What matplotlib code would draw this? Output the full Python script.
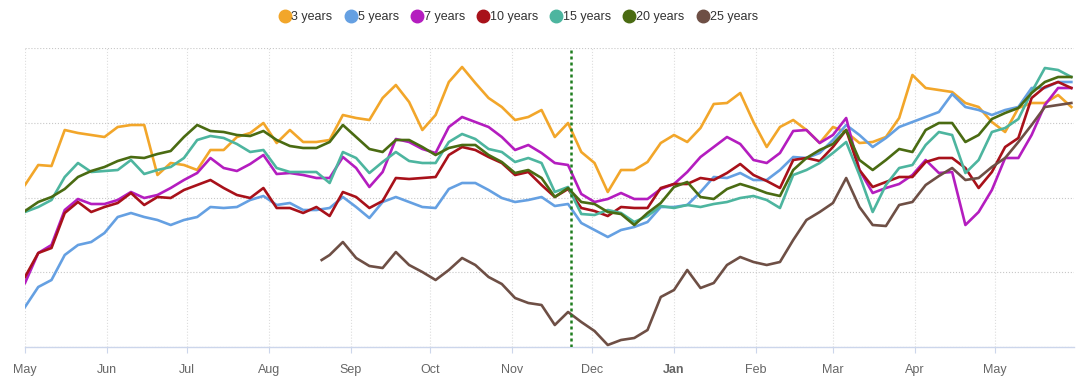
import matplotlib
matplotlib.use('Agg')
import matplotlib.pyplot as plt
import pandas as pd
import numpy as np
from matplotlib.lines import Line2D

# ---------------- data ----------------
dates = pd.date_range('2023-05-01', periods=80, freq='5D')

y3 = [162,182,181,217,214,212,210,220,222,222, 172,184,182,177,197,197,210,214,224,204,
      217,205,205,207,232,229,227,249,262,245, 217,232,265,280,264,249,240,227,230,237,
      210,224,195,184,155,177,177,185,204,212, 205,219,243,244,254,225,200,220,227,217,
      204,220,215,204,205,210,229,272,259,257, 255,244,240,225,215,239,244,244,252,240]
y5 = [40,60,67,92,102,105,114,130,134,130, 127,122,127,130,140,139,140,147,151,142,
      144,137,137,139,150,140,129,145,150,145, 140,139,158,164,164,157,149,145,147,150,
      141,143,124,117,110,117,120,125,140,140, 142,155,170,169,174,167,167,177,190,189,
      194,207,222,212,200,209,220,225,230,235, 253,240,237,232,237,240,259,259,265,265]
y7 = [64,94,102,137,148,143,143,147,155,149, 152,159,167,174,189,179,176,183,192,173,
      174,172,169,169,190,179,160,175,208,205, 198,194,220,230,225,220,210,197,202,194,
      184,182,153,145,148,154,148,148,158,163, 175,190,200,210,203,187,184,194,216,217,
      204,212,229,177,154,159,163,172,187,174, 175,122,135,157,189,189,212,242,259,259]
y10 = [70,94,99,134,145,135,140,144,154,142, 150,149,157,162,167,159,152,149,159,139,
       139,134,140,131,155,150,139,146,169,168, 169,170,192,200,197,190,184,172,175,162,
       150,158,139,136,131,140,139,139,159,163, 163,169,167,174,183,172,166,159,187,189,
       186,200,217,177,160,165,170,170,185,189, 189,179,159,175,200,209,249,260,265,259]
y15 = [135,140,147,170,184,175,176,177,187,173, 177,180,189,207,211,209,203,195,197,179,
       175,175,175,164,195,189,174,185,195,186, 184,184,205,213,208,198,195,185,189,184,
       155,160,133,132,137,134,125,131,141,139, 142,140,143,145,149,151,147,139,172,177,
       184,194,205,172,135,162,179,182,202,215, 212,174,187,215,219,228,255,279,277,270]
y20 = [136,145,150,158,170,176,180,186,190,189, 193,196,210,222,216,215,212,211,216,207,
       201,199,199,205,222,210,198,195,207,207, 200,192,199,202,202,192,185,174,177,169,
       150,159,145,143,135,133,122,134,144,160, 165,150,148,158,163,159,154,151,177,189,
       197,203,217,187,177,187,198,195,217,224, 224,205,212,228,234,239,254,265,270,270]
dates25 = [pd.Timestamp('2023-08-21')] + list(dates[23:])
y25 = [87, 92,105,89,81,79,95,82,75,67,77,89,82,70,63,49,44,42,22,35,25,16,2,7,9,17,50,
       57,77,59,64,82,90,85,82,85,107,127,135,144,169,140,122,121,142,145,162,171,179,
       167,169,180,189,205,222,240,242,244]

labels = ['3 years', '5 years', '7 years', '10 years', '15 years', '20 years', '25 years']
colors = ['#F2A62A', '#65A0E2', '#B41DBF', '#A8111A', '#4DB59F', '#4A6B12', '#6E4F45']
marker_date = pd.Timestamp('2023-11-23')

month_ticks = pd.date_range('2023-05-01', '2024-05-01', freq='MS')
month_labels = ['May', 'Jun', 'Jul', 'Aug', 'Sep', 'Oct', 'Nov', 'Dec', 'Jan',
                'Feb', 'Mar', 'Apr', 'May']

# ---------------- plot ----------------
plt.rcParams['font.family'] = ['Liberation Sans', 'DejaVu Sans']
fig = plt.figure(figsize=(10.88, 3.83), dpi=100)
ax = fig.add_axes([25/1088, 36/383, 1049/1088, 299/383])

series = [(dates, y3), (dates, y5), (dates, y7), (dates, y10),
          (dates, y15), (dates, y20), (dates25, y25)]
for (d, v), c, lab in zip(series, colors, labels):
    ax.plot(d, v, color=c, lw=1.9, solid_joinstyle='round', label=lab, zorder=3)

ax.axvline(marker_date, color='#1E7D1E', lw=1.8, ls=(0, (1.2, 1.2)), zorder=4)

ax.set_xlim(pd.Timestamp('2023-05-01'), pd.Timestamp('2024-05-31'))
ax.set_ylim(0, 299)
ax.set_yticks(np.linspace(0, 299, 5))
ax.set_yticklabels([])
ax.tick_params(axis='y', length=0)

ax.set_xticks(month_ticks)
ax.set_xticklabels(month_labels)
for t in ax.get_xticklabels():
    if t.get_text() == 'Jan':
        t.set_fontweight('bold')
        t.set_color('#333333')
ax.tick_params(axis='x', length=4, color='#ccd6eb', labelsize=9,
               labelcolor='#666666', pad=8)

ax.grid(axis='y', ls=':', color='#c8c8c8', lw=0.8)
ax.grid(axis='x', ls=':', color='#dddddd', lw=0.8)
ax.set_axisbelow(True)
for s in ['top', 'right', 'left']:
    ax.spines[s].set_visible(False)
ax.spines['bottom'].set_color('#ccd6eb')
ax.spines['bottom'].set_linewidth(1.0)

handles = [Line2D([], [], ls='', marker='o', markersize=9,
                  markerfacecolor=c, markeredgecolor=c) for c in colors]
fig.legend(handles, labels, loc='center', bbox_to_anchor=(518/1088, 1 - 17/383),
           ncol=7, frameon=False, handletextpad=0.05, columnspacing=0.95,
           handlelength=1.0, fontsize=9, labelcolor='#333333')

fig.savefig('out.png', dpi=100)
